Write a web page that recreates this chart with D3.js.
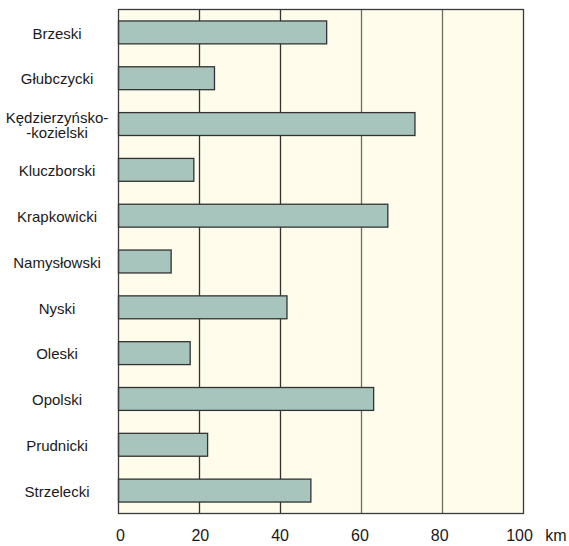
<!DOCTYPE html>
<html><head><meta charset="utf-8">
<script src="https://cdn.jsdelivr.net/npm/d3@7"></script>
<style>body{margin:0;background:#fff}svg{display:block}</style>
</head><body>
<svg id="c" width="569" height="546"></svg>
<script>
const categories = ["Brzeski","Głubczycki","Kędzierzyńsko-\n-kozielski","Kluczborski","Krapkowicki","Namysłowski","Nyski","Oleski","Opolski","Prudnicki","Strzelecki"];
const values = [51.4, 23.7, 73.2, 18.6, 66.5, 13.0, 41.6, 17.7, 63.0, 22.0, 47.5];
const tickValues = [0, 20, 40, 60, 80, 100];
const unitLabel = "km";

(function () {
const svg = d3.select("#c");
const pL = 118.5, pR = 523.5, pT = 9.5, pB = 513.5;
const x = d3.scaleLinear().domain([0, 100]).range([pL, pR]);
const y = d3.scaleBand().domain(categories).range([pT, pB]).paddingInner(0.5).paddingOuter(0.25);
const font = "'Liberation Sans',Arial,sans-serif";
const fs = 15;

svg.append("rect").attr("x", pL).attr("y", pT).attr("width", pR - pL).attr("height", pB - pT)
  .attr("fill", "#fffcec");

svg.append("g").selectAll("line").data(tickValues.slice(1, -1)).join("line")
  .attr("x1", d => x(d)).attr("x2", d => x(d)).attr("y1", pT).attr("y2", pB)
  .attr("stroke", (d) => d <= 40 ? "#333" : "#6f6b63").attr("stroke-width", 1.3);

svg.append("g").selectAll("rect").data(values).join("rect")
  .attr("x", x(0)).attr("y", (d, i) => y(categories[i]))
  .attr("width", d => x(d) - x(0)).attr("height", y.bandwidth())
  .attr("fill", "#a7c4bd").attr("stroke", "#333").attr("stroke-width", 1.3);

svg.append("rect").attr("x", pL).attr("y", pT).attr("width", pR - pL).attr("height", pB - pT)
  .attr("fill", "none").attr("stroke", "#3a3a3a").attr("stroke-width", 1.3);

const lab = svg.append("g").selectAll("text").data(categories).join("text")
  .attr("x", 57).attr("text-anchor", "middle")
  .attr("font-family", font).attr("font-size", fs).attr("fill", "#1a1a1a");
lab.each(function(d) {
  const lines = d.split("\n");
  const cy = y(d) + y.bandwidth() / 2 + 1;
  const t = d3.select(this);
  lines.forEach((s, k) => {
    t.append("tspan").attr("x", 57)
      .attr("y", cy + (k - (lines.length - 1) / 2) * 15.5)
      .attr("dy", "0.35em").text(s);
  });
});

const xAxis = d3.axisBottom(x).tickValues(tickValues).tickSize(0).tickPadding(0).tickFormat(d3.format("d"));
const ax = svg.append("g").attr("transform", `translate(1.5,${pB + 16})`).call(xAxis);
ax.select(".domain").remove();
ax.selectAll("text").attr("font-family", font).attr("font-size", fs + 1).attr("fill", "#1a1a1a")
  .attr("dx", d => -d * 0.06);

svg.append("text").attr("x", 556).attr("y", pB + 16).attr("dy", "0.71em").attr("text-anchor", "middle")
  .attr("font-family", font).attr("font-size", fs + 1).attr("fill", "#1a1a1a").text(unitLabel);
})();
</script>
</body></html>
